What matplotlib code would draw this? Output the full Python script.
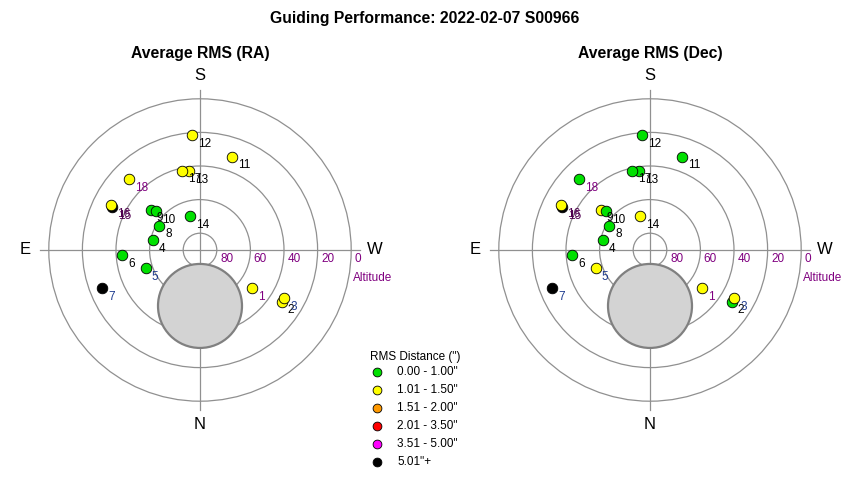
import numpy as np
import matplotlib
matplotlib.use("Agg")
import matplotlib.pyplot as plt
from matplotlib.patches import Circle

plt.rcParams['font.family'] = ['Liberation Sans', 'DejaVu Sans']

# target positions (azimuth deg, altitude deg), numbered 1..18
nums = list(range(1, 19))
az = [306.5, 302.4, 299.8, 101.6, 71.4, 86.3, 68.6, 120.9, 129.2,
      131.3, 198.9, 176.1, 172.2, 163.4, 115.9, 116.8, 167.5, 135.0]
alt = [51.7, 32.5, 32.1, 61.6, 55.9, 43.7, 27.5, 61.8, 52.3,
       54.9, 31.4, 21.5, 42.6, 69.0, 31.8, 30.6, 41.6, 30.5]

# RMS class per target: 0 green, 1 yellow, 2 orange, 3 red, 4 magenta, 5 black
cls_ra = [1, 1, 1, 0, 0, 0, 5, 0, 0, 0, 1, 1, 1, 0, 5, 1, 1, 1]
cls_dec = [1, 0, 1, 0, 1, 0, 5, 0, 1, 0, 0, 0, 0, 1, 5, 1, 0, 0]

lab_col = ['#800080', 'black', '#1f3c8f', 'black', '#1f3c8f', 'black', '#1f3c8f',
           'black', 'black', 'black', 'black', 'black', 'black', 'black',
           '#500050', '#500050', 'black', '#800080']

class_colors = ['#00e000', '#ffff00', '#ff9900', '#ff0000', '#ff00ff', '#000000']
class_names = ['0.00 - 1.00"', '1.01 - 1.50"', '1.51 - 2.00"',
               '2.01 - 3.50"', '3.51 - 5.00"', '5.01"+']

alt_rings = [80, 60, 40, 20, 0]

# grey disc (az, alt, radius in deg)
disc = (0.0, 56.7, 25.0)


def to_xy(a, h):
    a = np.radians(np.asarray(a))
    r = 90 - np.asarray(h)
    return -r * np.sin(a), -r * np.cos(a)


def draw_sky(ax, cls, title):
    ax.set_xlim(-110, 110)
    ax.set_ylim(-110, 110)
    ax.set_aspect('equal')
    ax.axis('off')
    for h in alt_rings:
        ax.add_patch(Circle((0, 0), 90 - h, fill=False, ec='#909090', lw=0.9))
    ax.plot([-95, 95], [0, 0], color='#909090', lw=0.9)
    ax.plot([0, 0], [-95, 95], color='#909090', lw=0.9)
    dx, dy = to_xy(disc[0], disc[1])
    ax.add_patch(Circle((dx, dy), disc[2], fc='#d3d3d3', ec='#808080', lw=1.6, zorder=2))
    for h in alt_rings:
        ax.text(90 - h + 2, -2, str(h), color='#800080', fontsize=8.5,
                ha='left', va='top')
    ax.text(91, -13, 'Altitude', color='#800080', fontsize=8.5, ha='left', va='top')
    ax.text(0, 104, 'S', fontsize=12, ha='center', va='center')
    ax.text(0, -104, 'N', fontsize=12, ha='center', va='center')
    ax.text(-104, 0, 'E', fontsize=12, ha='center', va='center')
    ax.text(104, 0, 'W', fontsize=12, ha='center', va='center')
    ax.text(0, 117, title, fontsize=11.3, fontweight='bold', ha='center', va='center')
    x, y = to_xy(az, alt)
    order = [14, 15] + [i for i in range(18) if i not in (14, 15)]
    for i in order:
        ax.scatter(x[i], y[i], s=58, c=class_colors[cls[i]], edgecolors='black',
                   linewidths=0.6, zorder=3)
        ax.text(x[i] + 3.5, y[i] - 1.5, str(nums[i]), fontsize=8.5, color=lab_col[i],
                ha='left', va='top', zorder=4)


fig = plt.figure(figsize=(8.5, 4.8), dpi=100)
fig.text(0.5, 1 - 18 / 480, 'Guiding Performance: 2022-02-07 S00966',
         fontsize=11.3, fontweight='bold', ha='center', va='center')

axw = 369.6 / 850
axh = 369.6 / 480
ax1 = fig.add_axes([15.2 / 850, 45.2 / 480, axw, axh])
ax2 = fig.add_axes([465.2 / 850, 45.2 / 480, axw, axh])
draw_sky(ax1, cls_ra, 'Average RMS (RA)')
draw_sky(ax2, cls_dec, 'Average RMS (Dec)')

# legend
lg = fig.add_axes([360 / 850, 5 / 480, 110 / 850, 130 / 480])
lg.set_xlim(360, 470)
lg.set_ylim(475, 345)
lg.axis('off')
lg.text(415, 357, 'RMS Distance (")', fontsize=8.5, ha='center', va='center')
for k in range(len(class_names)):
    yy = 372 + 18 * k
    lg.scatter(377, yy, s=40, c=class_colors[k], edgecolors='black', linewidths=0.6)
    lg.text(397, yy, class_names[k], fontsize=8.5, ha='left', va='center')

fig.savefig('out.png', dpi=100)
